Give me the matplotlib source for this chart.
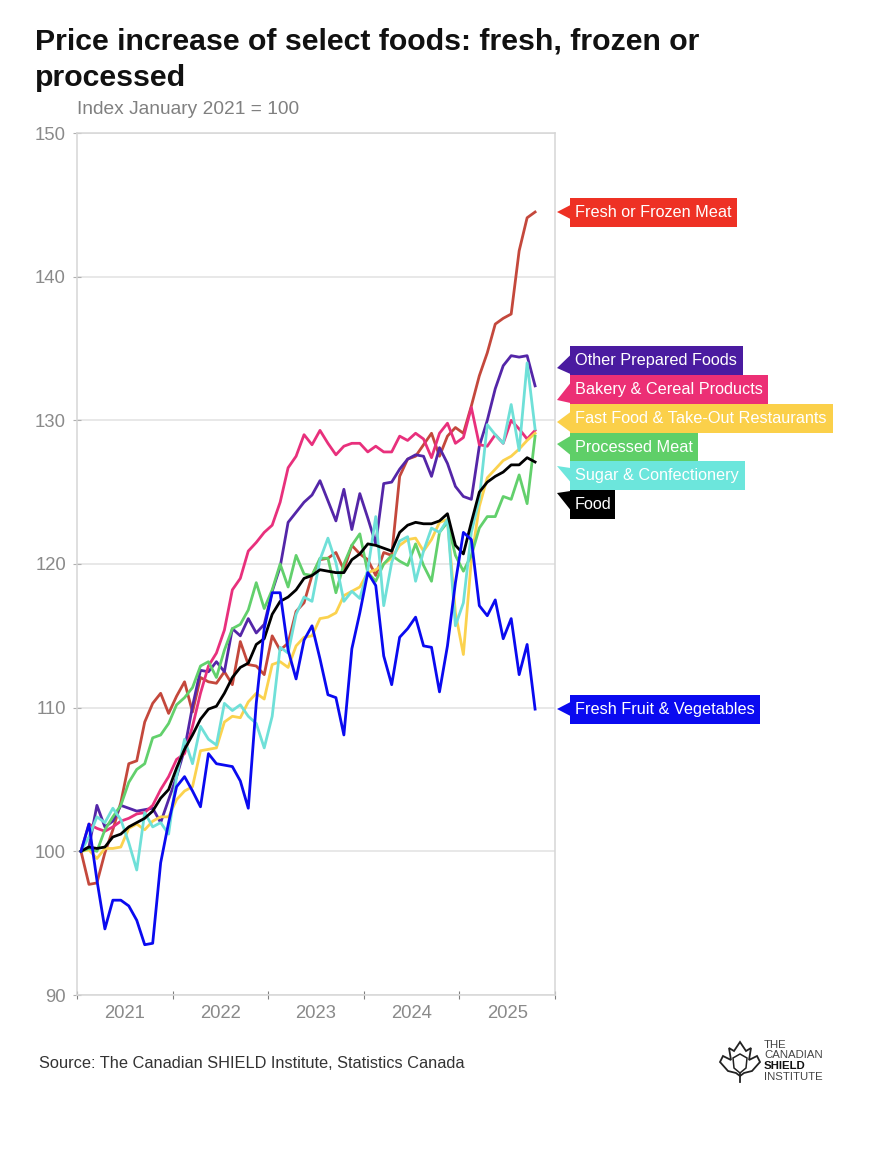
import matplotlib
matplotlib.use("Agg")
import matplotlib.pyplot as plt
from matplotlib.patches import Polygon, Rectangle

plt.rcParams['font.family'] = ['Liberation Sans', 'DejaVu Sans']

years = ['2021', '2022', '2023', '2024', '2025']
y_ticks = [90, 100, 110, 120, 130, 140, 150]

meat = [100, 97.7, 97.8, 99.9, 101.5, 103.4, 106.1, 106.3, 109, 110.3, 111, 109.6, 110.8, 111.8, 109.7, 112.1,
        111.8, 111.7, 112.5, 111.6, 114.6, 113, 112.9, 112.3, 115, 114, 114.5, 116.7, 117.3, 119.2, 120.3, 120.4,
        120.8, 119.6, 121.3, 120.7, 120.3, 119.2, 120.8, 120.6, 126.1, 127.3, 127.5, 128.3, 129.1, 127.5, 128.9,
        129.5, 129.1, 131, 133.1, 134.7, 136.7, 137.1, 137.4, 141.8, 144.1, 144.5]
prepared = [100, 100.3, 103.2, 101.7, 102.1, 103.2, 103, 102.8, 102.9, 103, 102, 103.6, 105.2, 107.1, 110.1, 112.6,
            112.5, 113.2, 112.5, 115.5, 115, 116.2, 115.2, 115.8, 118.1, 119.8, 122.9, 123.6, 124.3, 124.8, 125.8,
            124.4, 123, 125.2, 122.4, 124.9, 123.2, 121.4, 125.6, 125.7, 126.6, 127.3, 127.6, 127.5, 126.1, 128.1,
            127, 125.4, 124.7, 124.5, 128.2, 130, 132.2, 133.8, 134.5, 134.4, 134.5, 132.4]
bakery = [100, 101.9, 101.6, 101.4, 101.7, 102.1, 102.3, 102.6, 102.7, 103.2, 104.3, 105.2, 106.4, 106.8, 108.7, 111,
          112.9, 113.8, 115.4, 118.2, 119, 120.9, 121.5, 122.2, 122.7, 124.3, 126.7, 127.5, 129, 128.3, 129.3, 128.4,
          127.6, 128.2, 128.4, 128.4, 127.8, 128.2, 127.8, 127.8, 128.9, 128.6, 129.1, 128.7, 127.4, 129.1, 129.8,
          128.4, 128.8, 130.9, 128.3, 128.2, 129, 128.4, 130, 129.4, 128.7, 129.3]
fastfood = [100, 100.1, 99.5, 100.2, 100.2, 100.3, 101.6, 101.9, 101.5, 102.1, 102.4, 102.4, 103.6, 104.2, 104.5, 107,
            107.1, 107.2, 109, 109.4, 109.3, 110.4, 111, 110.6, 113, 113.2, 112.8, 114.3, 114.9, 115, 116.2, 116.3,
            116.6, 117.8, 118.1, 118.4, 119.4, 119.6, 120, 120.4, 121.3, 121.7, 121.8, 120.9, 121.7, 122.9, 123.1,
            116.6, 113.7, 120.3, 124, 126, 126.6, 127.2, 127.5, 128, 128.6, 129.1]
processed = [100, 100.2, 100, 101.5, 102.4, 103.2, 104.8, 105.7, 106.1, 107.9, 108.1, 108.9, 110.2, 110.7, 111.4, 112.9,
             113.2, 112.1, 114, 115.5, 115.8, 116.8, 118.7, 116.9, 118.2, 120, 118.4, 120.6, 119.3, 119.2, 120.4, 120.4,
             118, 120, 121.3, 122.1, 119.4, 118.8, 120, 120.6, 120.2, 119.9, 121.4, 119.9, 118.8, 122.2, 122.9, 120.6,
             119.5, 120.6, 122.5, 123.3, 123.3, 124.7, 124.5, 126.2, 124.2, 128.9]
sugar = [100, 101, 102.4, 102, 103, 102.2, 100.6, 98.7, 102.7, 101.7, 102, 101.2, 105.2, 107.8, 106.1, 108.7, 107.8,
         107.4, 110.3, 109.8, 110.2, 109.4, 108.9, 107.2, 109.4, 114.2, 113.8, 116.5, 117.7, 117.4, 120.3, 121.8, 120.1,
         117.4, 118.1, 117.6, 119.6, 123.3, 117.1, 120.1, 121.6, 121.9, 118.8, 120.9, 122.5, 122.2, 123.1, 115.7, 117.3,
         122.2, 124.5, 129.7, 129, 128.4, 131.1, 127.9, 134, 129.4]
food = [100, 100.3, 100.2, 100.3, 101, 101.2, 101.7, 102, 102.3, 102.8, 103.7, 104.3, 105.8, 107.1, 108.1, 109.2, 109.9,
        110.1, 111, 112.1, 112.8, 113.1, 114.4, 114.8, 116.5, 117.4, 117.7, 118.2, 119, 119.2, 119.6, 119.5, 119.4,
        119.4, 120.3, 120.7, 121.4, 121.3, 121.1, 120.9, 122.2, 122.7, 122.9, 122.8, 122.8, 123, 123.5, 121.3, 120.7,
        122.9, 125, 125.7, 126.1, 126.4, 126.9, 126.9, 127.4, 127.1]
fruit = [100, 101.9, 98, 94.6, 96.6, 96.6, 96.2, 95.2, 93.5, 93.6, 99.2, 102, 104.5, 105.2, 104.2, 103.1, 106.8, 106.1,
         106, 105.9, 104.9, 103, 110.3, 115.5, 118, 118, 114, 112, 114.7, 115.7, 113.4, 110.9, 110.7, 108.1, 114.1,
         116.6, 119.4, 118.5, 113.6, 111.6, 114.9, 115.5, 116.3, 114.3, 114.2, 111.1, 114.3, 118.7, 122.2, 121.7, 117.1,
         116.4, 117.5, 114.8, 116.2, 112.3, 114.4, 109.9]

W, H = 886, 1164
fig = plt.figure(figsize=(W / 100, H / 100), dpi=100, facecolor='white')
L, R, T, B = 77, 555, 133, 995
ax = fig.add_axes([L / W, 1 - B / H, (R - L) / W, (B - T) / H])
ax.set_xlim(-0.5, 59.5)
ax.set_ylim(90, 150)

series = [
    (meat, '#C4483C'), (prepared, '#5426A8'), (bakery, '#E8307C'), (fastfood, '#FBD24E'),
    (processed, '#62D06C'), (sugar, '#6FE0D8'), (food, '#000000'), (fruit, '#0A0AF0'),
]
months = list(range(len(food)))
for vals, col in series:
    ax.plot(months, vals, color=col, lw=2.0, solid_joinstyle='round', clip_on=False, zorder=3)

ax.set_yticks(y_ticks)
ax.set_yticklabels([str(v) for v in y_ticks], color='#8a8a8a', fontsize=13.3)
ax.set_xticks([-0.5 + 12 * i for i in range(6)])
ax.set_xticklabels([])
ax.set_xticks([5.5 + 12 * i for i in range(5)], minor=True)
ax.set_xticklabels(years, minor=True, color='#8a8a8a', fontsize=13.3)
ax.tick_params(axis='x', which='minor', length=0, pad=7)
ax.tick_params(axis='x', which='major', length=6, direction='inout', color='#808080', width=0.8)
ax.tick_params(axis='y', length=6, direction='inout', color='#b0b0b0', width=0.8, pad=5)
ax.grid(axis='y', color='#e4e4e4', lw=1.2, zorder=1)
ax.set_axisbelow(True)
for s in ('top', 'left', 'right', 'bottom'):
    ax.spines[s].set_color('#d6d6d6')
    ax.spines[s].set_linewidth(1.1)

ov = fig.add_axes([0, 0, 1, 1], facecolor='none')
ov.set_xlim(0, W)
ov.set_ylim(H, 0)
ov.axis('off')

ov.text(35, 42, 'Price increase of select foods: fresh, frozen or', fontsize=21.8, fontweight='bold',
        color='#111111', va='center')
ov.text(35, 78, 'processed', fontsize=21.8, fontweight='bold', color='#111111', va='center')
ov.text(77, 109, 'Index January 2021 = 100', fontsize=13.8, color='#808080', va='center')
ov.text(39, 1063, 'Source: The Canadian SHIELD Institute, Statistics Canada', fontsize=11.8, color='#333333', va='center')

labels = [
    ('Fresh or Frozen Meat', '#EE3124', 198, 737, 212, 205, 219),
    ('Other Prepared Foods', '#4A1BA0', 346, 743, 368, 355, 374),
    ('Bakery & Cereal Products', '#EC2F75', 375, 768, 400, 383, 403),
    ('Fast Food & Take-Out Restaurants', '#FBD04A', 404, 833, 422, 412, 432),
    ('Processed Meat', '#5FCF68', 433, 698, 444, 436, 455),
    ('Sugar & Confectionery', '#6CE6DC', 461, 745, 466, 468, 482),
    ('Food', '#000000', 490, 615, 493, 491, 510),
    ('Fresh Fruit & Vegetables', '#0A0AF0', 695, 760, 709, 702, 716),
]
for text, col, top, right, tip, y0, y1 in labels:
    h = 29
    ov.add_patch(Rectangle((570, top), right - 570, h, facecolor=col, edgecolor='none', zorder=4))
    ov.add_patch(Polygon([(557, tip), (570.5, y0), (570.5, y1)], closed=True, facecolor=col, edgecolor='none', zorder=4))
    ov.text(575, top + h / 2, text, color='white', fontsize=11.7, va='center', zorder=5)

# logo
leaf = [(740, 1042), (746, 1051), (751, 1048), (749, 1060), (757, 1056), (760, 1062), (752, 1071), (744, 1073),
        (740, 1076), (736, 1073), (728, 1071), (720, 1062), (723, 1056), (731, 1060), (729, 1048), (734, 1051)]
ov.add_patch(Polygon(leaf, closed=True, facecolor='none', edgecolor='#222222', lw=1.3))
shield = [(733, 1058), (740, 1054), (747, 1058), (746, 1068), (740, 1073), (734, 1068)]
ov.add_patch(Polygon(shield, closed=True, facecolor='none', edgecolor='#222222', lw=1.1))
ov.plot([740, 740], [1074, 1082], color='#222222', lw=1.3)
for t, y, w, c in [('THE', 1045, 'normal', '#444444'), ('CANADIAN', 1055, 'normal', '#444444'),
                   ('SHIELD', 1066, 'bold', '#111111'), ('INSTITUTE', 1077, 'normal', '#444444')]:
    ov.text(764, y, t, fontsize=8.2, fontweight=w, color=c, va='center')

fig.savefig('out.png', dpi=100, facecolor='white')
